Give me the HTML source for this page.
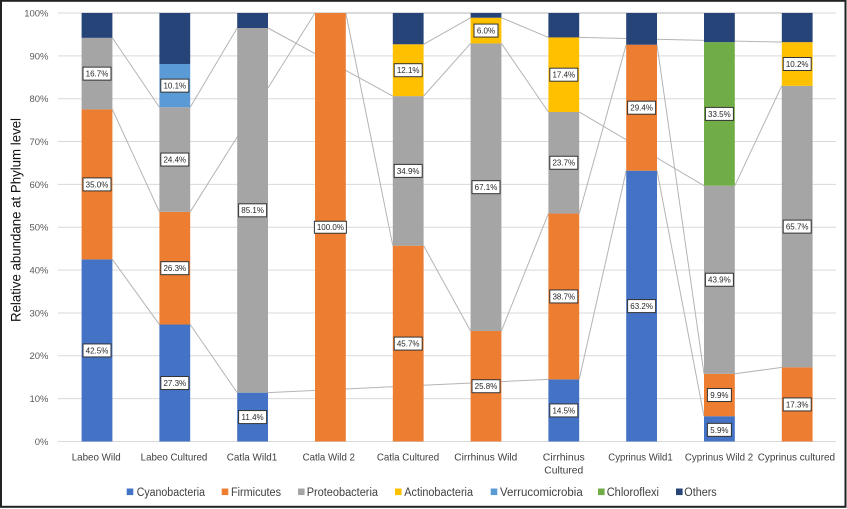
<!DOCTYPE html>
<html><head><meta charset="utf-8"><style>
html,body{margin:0;padding:0;background:#fff;}
svg{display:block;}
text{font-family:"Liberation Sans",sans-serif;}
</style></head><body>
<svg width="847" height="509" viewBox="0 0 847 509" xmlns="http://www.w3.org/2000/svg">
<rect x="0" y="0" width="847" height="509" fill="#fff"/>
<!-- gridlines -->
<g stroke="#D9D9D9" stroke-width="1">
<line x1="58" y1="441.5" x2="836" y2="441.5"/>
<line x1="58" y1="398.65" x2="836" y2="398.65"/>
<line x1="58" y1="355.8" x2="836" y2="355.8"/>
<line x1="58" y1="312.95" x2="836" y2="312.95"/>
<line x1="58" y1="270.1" x2="836" y2="270.1"/>
<line x1="58" y1="227.25" x2="836" y2="227.25"/>
<line x1="58" y1="184.4" x2="836" y2="184.4"/>
<line x1="58" y1="141.55" x2="836" y2="141.55"/>
<line x1="58" y1="98.7" x2="836" y2="98.7"/>
<line x1="58" y1="55.85" x2="836" y2="55.85"/>
<line x1="58" y1="13" x2="836" y2="13"/>
</g>
<!-- series lines -->
<g stroke="#B4B4B4" stroke-width="1" fill="none">
<line x1="81.6" y1="13" x2="812.6" y2="13"/>
<!-- cyano -->
<line x1="112.4" y1="259.39" x2="159.4" y2="324.52"/>
<line x1="190.2" y1="324.52" x2="237.2" y2="392.65"/>
<line x1="268.0" y1="392.65" x2="548.4" y2="379.37"/>
<line x1="579.2" y1="379.37" x2="626.2" y2="170.69"/>
<line x1="657.0" y1="170.69" x2="704.0" y2="416.22"/>
<!-- firm -->
<line x1="112.4" y1="109.41" x2="159.4" y2="211.82"/>
<line x1="190.2" y1="211.82" x2="315.0" y2="13.0"/>
<line x1="345.8" y1="13.0" x2="392.8" y2="245.68"/>
<line x1="423.6" y1="245.68" x2="470.6" y2="330.95"/>
<line x1="501.4" y1="330.95" x2="548.4" y2="213.54"/>
<line x1="579.2" y1="213.54" x2="626.2" y2="44.71"/>
<line x1="657.0" y1="44.71" x2="704.0" y2="373.80"/>
<line x1="734.8" y1="373.80" x2="781.8" y2="367.37"/>
<!-- proteo -->
<line x1="112.4" y1="37.85" x2="159.4" y2="107.27"/>
<line x1="190.2" y1="107.27" x2="237.2" y2="28.00"/>
<line x1="268.0" y1="28.00" x2="392.8" y2="96.13"/>
<line x1="423.6" y1="96.13" x2="470.6" y2="43.42"/>
<line x1="501.4" y1="43.42" x2="548.4" y2="111.98"/>
<line x1="579.2" y1="111.98" x2="704.0" y2="185.69"/>
<line x1="734.8" y1="185.69" x2="781.8" y2="85.84"/>
<!-- actino -->
<line x1="423.6" y1="44.28" x2="470.6" y2="17.71"/>
<line x1="501.4" y1="17.71" x2="548.4" y2="37.42"/>
<line x1="579.2" y1="37.42" x2="781.8" y2="42.14"/>
</g>
<!-- bars -->
<g>
<!-- Bar0 -->
<rect x="81.6" y="259.39" width="30.8" height="182.11" fill="#4472C4"/>
<rect x="81.6" y="109.41" width="30.8" height="149.98" fill="#ED7D31"/>
<rect x="81.6" y="37.85" width="30.8" height="71.56" fill="#A5A5A5"/>
<rect x="81.6" y="13" width="30.8" height="24.85" fill="#264478"/>
<!-- Bar1 -->
<rect x="159.4" y="324.52" width="30.8" height="116.98" fill="#4472C4"/>
<rect x="159.4" y="211.82" width="30.8" height="112.70" fill="#ED7D31"/>
<rect x="159.4" y="107.27" width="30.8" height="104.55" fill="#A5A5A5"/>
<rect x="159.4" y="63.99" width="30.8" height="43.28" fill="#5B9BD5"/>
<rect x="159.4" y="13" width="30.8" height="50.99" fill="#264478"/>
<!-- Bar2 -->
<rect x="237.2" y="392.65" width="30.8" height="48.85" fill="#4472C4"/>
<rect x="237.2" y="28.00" width="30.8" height="364.65" fill="#A5A5A5"/>
<rect x="237.2" y="13" width="30.8" height="15" fill="#264478"/>
<!-- Bar3 -->
<rect x="315.0" y="13" width="30.8" height="428.5" fill="#ED7D31"/>
<!-- Bar4 -->
<rect x="392.8" y="245.68" width="30.8" height="195.82" fill="#ED7D31"/>
<rect x="392.8" y="96.13" width="30.8" height="149.55" fill="#A5A5A5"/>
<rect x="392.8" y="44.28" width="30.8" height="51.85" fill="#FFC000"/>
<rect x="392.8" y="13" width="30.8" height="31.28" fill="#264478"/>
<!-- Bar5 -->
<rect x="470.6" y="330.95" width="30.8" height="110.55" fill="#ED7D31"/>
<rect x="470.6" y="43.42" width="30.8" height="287.53" fill="#A5A5A5"/>
<rect x="470.6" y="17.71" width="30.8" height="25.71" fill="#FFC000"/>
<rect x="470.6" y="13" width="30.8" height="4.71" fill="#264478"/>
<!-- Bar6 -->
<rect x="548.4" y="379.37" width="30.8" height="62.13" fill="#4472C4"/>
<rect x="548.4" y="213.54" width="30.8" height="165.83" fill="#ED7D31"/>
<rect x="548.4" y="111.98" width="30.8" height="101.56" fill="#A5A5A5"/>
<rect x="548.4" y="37.42" width="30.8" height="74.56" fill="#FFC000"/>
<rect x="548.4" y="13" width="30.8" height="24.42" fill="#264478"/>
<!-- Bar7 -->
<rect x="626.2" y="170.69" width="30.8" height="270.81" fill="#4472C4"/>
<rect x="626.2" y="44.71" width="30.8" height="125.98" fill="#ED7D31"/>
<rect x="626.2" y="13" width="30.8" height="31.71" fill="#264478"/>
<!-- Bar8 -->
<rect x="704.0" y="416.22" width="30.8" height="25.28" fill="#4472C4"/>
<rect x="704.0" y="373.80" width="30.8" height="42.42" fill="#ED7D31"/>
<rect x="704.0" y="185.69" width="30.8" height="188.11" fill="#A5A5A5"/>
<rect x="704.0" y="42.14" width="30.8" height="143.55" fill="#70AD47"/>
<rect x="704.0" y="13" width="30.8" height="29.14" fill="#264478"/>
<!-- Bar9 -->
<rect x="781.8" y="367.37" width="30.8" height="74.13" fill="#ED7D31"/>
<rect x="781.8" y="85.84" width="30.8" height="281.53" fill="#A5A5A5"/>
<rect x="781.8" y="42.14" width="30.8" height="43.70" fill="#FFC000"/>
<rect x="781.8" y="13" width="30.8" height="29.14" fill="#264478"/>
</g>
<!-- data labels -->
<g font-size="8" fill="#262626" text-anchor="middle">
<g fill="#fff" stroke="#333" stroke-width="1">
<rect x="83" y="343.94" width="28" height="13"/>
<rect x="83" y="177.9" width="28" height="13"/>
<rect x="83" y="67.13" width="28" height="13"/>
<rect x="160.8" y="376.51" width="28" height="13"/>
<rect x="160.8" y="261.67" width="28" height="13"/>
<rect x="160.8" y="153.05" width="28" height="13"/>
<rect x="160.8" y="79.13" width="28" height="13"/>
<rect x="238.6" y="410.58" width="28" height="13"/>
<rect x="238.6" y="203.82" width="28" height="13"/>
<rect x="314.4" y="221.25" width="32" height="12"/>
<rect x="394.2" y="337.09" width="28" height="13"/>
<rect x="394.2" y="164.4" width="28" height="13"/>
<rect x="394.2" y="63.7" width="28" height="13"/>
<rect x="472" y="379.72" width="28" height="13"/>
<rect x="472" y="180.69" width="28" height="13"/>
<rect x="474" y="24.07" width="24" height="13"/>
<rect x="549.8" y="403.93" width="28" height="13"/>
<rect x="549.8" y="289.95" width="28" height="13"/>
<rect x="549.8" y="156.26" width="28" height="13"/>
<rect x="549.8" y="68.2" width="28" height="13"/>
<rect x="627.6" y="299.59" width="28" height="13"/>
<rect x="627.6" y="101.2" width="28" height="13"/>
<rect x="707.4" y="423.36" width="24" height="13"/>
<rect x="707.4" y="388.51" width="24" height="13"/>
<rect x="705.4" y="273.24" width="28" height="13"/>
<rect x="705.4" y="107.41" width="28" height="13"/>
<rect x="783.2" y="397.93" width="28" height="13"/>
<rect x="783.2" y="220.11" width="28" height="13"/>
<rect x="783.2" y="57.49" width="28" height="13"/>
</g>
<text x="97" y="353.3">42.5%</text>
<text x="97" y="187.3">35.0%</text>
<text x="97" y="76.5">16.7%</text>
<text x="174.8" y="385.9">27.3%</text>
<text x="174.8" y="271.1">26.3%</text>
<text x="174.8" y="162.4">24.4%</text>
<text x="174.8" y="88.5">10.1%</text>
<text x="252.6" y="420">11.4%</text>
<text x="252.6" y="213.2">85.1%</text>
<text x="330.4" y="230.1">100.0%</text>
<text x="408.2" y="346.5">45.7%</text>
<text x="408.2" y="173.8">34.9%</text>
<text x="408.2" y="73.1">12.1%</text>
<text x="486" y="389.1">25.8%</text>
<text x="486" y="190.1">67.1%</text>
<text x="486" y="33.5">6.0%</text>
<text x="563.8" y="413.3">14.5%</text>
<text x="563.8" y="299.3">38.7%</text>
<text x="563.8" y="165.7">23.7%</text>
<text x="563.8" y="77.6">17.4%</text>
<text x="641.6" y="309">63.2%</text>
<text x="641.6" y="110.6">29.4%</text>
<text x="719.4" y="432.8">5.9%</text>
<text x="719.4" y="397.9">9.9%</text>
<text x="719.4" y="282.6">43.9%</text>
<text x="719.4" y="116.8">33.5%</text>
<text x="797.2" y="407.3">17.3%</text>
<text x="797.2" y="229.5">65.7%</text>
<text x="797.2" y="66.9">10.2%</text>
</g>
<!-- y tick labels -->
<g font-size="9.5" fill="#595959" text-anchor="end">
<text x="48.5" y="444.9">0%</text>
<text x="48.5" y="402.1">10%</text>
<text x="48.5" y="359.2">20%</text>
<text x="48.5" y="316.4">30%</text>
<text x="48.5" y="273.5">40%</text>
<text x="48.5" y="230.7">50%</text>
<text x="48.5" y="187.8">60%</text>
<text x="48.5" y="145">70%</text>
<text x="48.5" y="102.1">80%</text>
<text x="48.5" y="59.3">90%</text>
<text x="48.5" y="16.4">100%</text>
</g>
<!-- y title -->
<text transform="translate(20.5,220) rotate(-90)" font-size="14" fill="#111" text-anchor="middle" textLength="204" lengthAdjust="spacingAndGlyphs">Relative abundane at Phylum level</text>
<!-- x labels -->
<g font-size="10.5" fill="#404040" text-anchor="middle">
<text x="96.2" y="460.6" textLength="49" lengthAdjust="spacingAndGlyphs">Labeo Wild</text>
<text x="174" y="460.6" textLength="66.7" lengthAdjust="spacingAndGlyphs">Labeo Cultured</text>
<text x="252" y="460.6" textLength="50.6" lengthAdjust="spacingAndGlyphs">Catla Wild1</text>
<text x="328.8" y="460.6" textLength="52.3" lengthAdjust="spacingAndGlyphs">Catla Wild 2</text>
<text x="408" y="460.6" textLength="62.3" lengthAdjust="spacingAndGlyphs">Catla Cultured</text>
<text x="485.8" y="460.6" textLength="63" lengthAdjust="spacingAndGlyphs">Cirrhinus Wild</text>
<text x="563.8" y="460.6" textLength="42" lengthAdjust="spacingAndGlyphs">Cirrhinus</text>
<text x="563.8" y="473.3" textLength="39" lengthAdjust="spacingAndGlyphs">Cultured</text>
<text x="640.5" y="460.6" textLength="64.4" lengthAdjust="spacingAndGlyphs">Cyprinus Wild1</text>
<text x="719" y="460.6" textLength="68.3" lengthAdjust="spacingAndGlyphs">Cyprinus Wild 2</text>
<text x="796.4" y="460.6" textLength="77.3" lengthAdjust="spacingAndGlyphs">Cyprinus cultured</text>
</g>
<!-- legend -->
<g>
<rect x="126.7" y="488.5" width="6.6" height="6.6" fill="#4472C4"/>
<rect x="221.7" y="488.5" width="6.6" height="6.6" fill="#ED7D31"/>
<rect x="298" y="488.5" width="6.6" height="6.6" fill="#A5A5A5"/>
<rect x="395" y="488.5" width="6.6" height="6.6" fill="#FFC000"/>
<rect x="490.7" y="488.5" width="6.6" height="6.6" fill="#5B9BD5"/>
<rect x="598" y="488.5" width="6.6" height="6.6" fill="#70AD47"/>
<rect x="676" y="488.5" width="6.6" height="6.6" fill="#264478"/>
</g>
<g font-size="11.5" fill="#404040">
<text x="136.7" y="495.8" textLength="68.3" lengthAdjust="spacingAndGlyphs">Cyanobacteria</text>
<text x="231" y="495.8" textLength="50" lengthAdjust="spacingAndGlyphs">Firmicutes</text>
<text x="306.7" y="495.8" textLength="71.3" lengthAdjust="spacingAndGlyphs">Proteobacteria</text>
<text x="404.3" y="495.8" textLength="68.7" lengthAdjust="spacingAndGlyphs">Actinobacteria</text>
<text x="500" y="495.8" textLength="82.7" lengthAdjust="spacingAndGlyphs">Verrucomicrobia</text>
<text x="606.7" y="495.8" textLength="52.3" lengthAdjust="spacingAndGlyphs">Chloroflexi</text>
<text x="684.3" y="495.8" textLength="32.4" lengthAdjust="spacingAndGlyphs">Others</text>
</g>
<!-- border -->
<rect x="1" y="0.8" width="844.5" height="506" fill="none" stroke="#222" stroke-width="2"/>
</svg>
</body></html>
